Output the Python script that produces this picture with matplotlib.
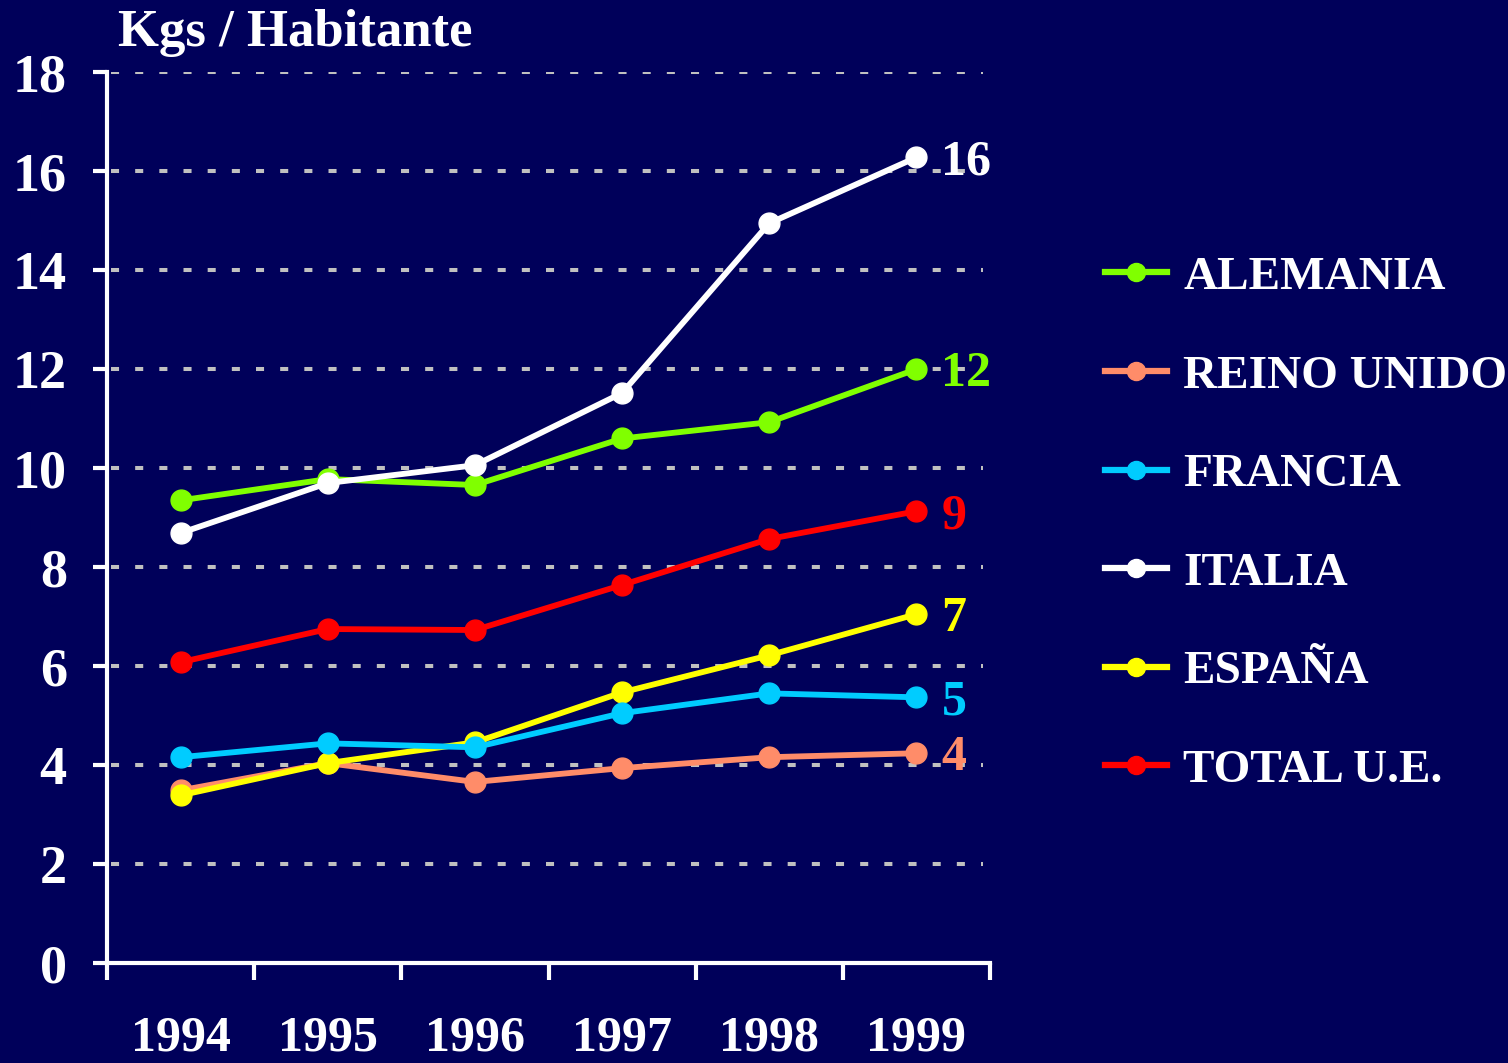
import matplotlib
matplotlib.use("Agg")
import matplotlib.pyplot as plt
from matplotlib.lines import Line2D

plt.rcParams['font.family'] = ['Liberation Serif', 'DejaVu Serif']
plt.rcParams['font.weight'] = 'bold'

years = ["1994", "1995", "1996", "1997", "1998", "1999"]
alemania = [9.35, 9.78, 9.66, 10.60, 10.93, 12.00]
reino_unido = [3.49, 4.04, 3.66, 3.94, 4.16, 4.24]
francia = [4.16, 4.44, 4.36, 5.05, 5.45, 5.37]
italia = [8.69, 9.70, 10.06, 11.52, 14.95, 16.28]
espana = [3.39, 4.04, 4.46, 5.47, 6.22, 7.05]
total_ue = [6.08, 6.75, 6.73, 7.64, 8.57, 9.13]

series_names = ["ALEMANIA", "REINO UNIDO", "FRANCIA", "ITALIA", "ESPAÑA", "TOTAL U.E."]
series_values = [alemania, reino_unido, francia, italia, espana, total_ue]
series_colors = ["#80ff00", "#ff8c69", "#00ccff", "#ffffff", "#ffff00", "#ff0000"]
# drawing order (last on top)
draw_order = [1, 4, 2, 5, 0, 3]

yticks = [0, 2, 4, 6, 8, 10, 12, 14, 16, 18]
bg = "#00005a"

fig = plt.figure(figsize=(15.08, 10.63), dpi=100, facecolor=bg)
ax = fig.add_axes([0.071, 0.094, 0.5855, 0.838])
ax.set_facecolor(bg)

xs = [i + 0.5 for i in range(len(years))]

for y in yticks[1:]:
    ax.plot([0.03, 5.95], [y, y], color="#c0c0c0", lw=2.9, linestyle=(0, (2, 4)),
            dash_capstyle='butt', zorder=1)

for idx in draw_order:
    ax.plot(xs, series_values[idx], color=series_colors[idx], lw=4.2, marker='o',
            markersize=15, zorder=3, clip_on=False)

for idx in range(len(series_names)):
    v = series_values[idx][-1]
    ax.annotate(f"{round(v)}", xy=(xs[-1], v), xytext=(25, -5), textcoords='offset pixels',
                color=series_colors[idx], fontsize=36, fontweight='bold', va='center', ha='left')

ax.set_xlim(0, 6)
ax.set_ylim(0, 18)
ax.set_yticks(yticks)
ax.set_yticklabels([str(t) for t in yticks])
ax.set_xticks(range(7))
ax.set_xticklabels([])
for i, yr in enumerate(years):
    ax.text(xs[i], -1.76, yr, ha='center', va='baseline', color='white', fontsize=36,
            fontweight='bold', transform=ax.transData)

for s in ['top', 'right']:
    ax.spines[s].set_visible(False)
for s in ['left', 'bottom']:
    ax.spines[s].set_color('white')
    ax.spines[s].set_linewidth(3)

ax.tick_params(axis='y', direction='out', length=10, width=3, color='white',
               labelcolor='white', labelsize=39, pad=19)
ax.tick_params(axis='x', direction='out', length=12, width=3, color='white')
for lab in ax.get_yticklabels():
    lab.set_fontweight('bold')

fig.text(0.078, 0.969, "Kgs / Habitante", color='white', fontsize=38, fontweight='bold',
         ha='left', va='center')

handles = [Line2D([0], [0], color=c, lw=4.5, marker='o', markersize=13) for c in series_colors]
leg = fig.legend(handles, series_names, loc='upper left', bbox_to_anchor=(0.7205, 0.777),
                 frameon=False, fontsize=34, labelcolor='white', handlelength=1.3,
                 handletextpad=0.35, labelspacing=1.175, borderaxespad=0)
for t in leg.get_texts():
    t.set_fontweight('bold')

fig.savefig("out.png", dpi=100, facecolor=bg)
